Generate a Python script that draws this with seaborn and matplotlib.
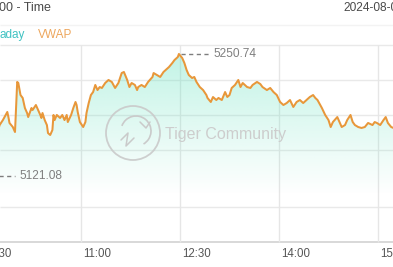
import numpy as np
import pandas as pd
import matplotlib
matplotlib.use("Agg")
import matplotlib.pyplot as plt
import seaborn as sns
from matplotlib.patches import Circle, Arc
from matplotlib.transforms import blended_transform_factory, offset_copy

# ---- data (minutes after 9:30 open, index price) ----
minutes = [0, 3, 7, 12, 16, 19, 23, 24, 25, 28, 30, 32, 33, 35, 37, 39, 41, 42, 45, 46,
           49, 51, 53, 54, 55, 57, 59, 60, 62, 64, 65, 66, 68, 71, 73, 75, 77, 78, 81, 83,
           85, 86, 87, 89, 92, 94, 95, 97, 99, 101, 103, 105, 107, 109, 112, 115, 118, 121,
           124, 127, 129, 132, 134, 136, 139, 141, 142, 145, 148, 151, 155, 156, 159, 162,
           165, 169, 170, 173, 175, 178, 179, 182, 184, 186, 188, 191, 193, 195, 198, 201,
           204, 205, 208, 210, 213, 215, 218, 221, 223, 225, 227, 230, 233, 235, 237, 241,
           244, 246, 250, 253, 255, 259, 262, 265, 268, 271, 274, 277, 280, 283, 286, 289,
           292, 295, 298, 301, 303, 305, 309, 312, 315, 317, 319, 323, 325, 327, 330, 332,
           335, 337, 339, 342, 345, 348, 351, 355, 357, 359, 362, 365, 367, 369, 372, 374,
           376, 380, 384, 390]
prices = [5148.7, 5121.08, 5138.0, 5159.3, 5175.2, 5180.5, 5189.1, 5183.7, 5177.4, 5173.1,
          5167.8, 5221.0, 5219.9, 5207.1, 5204.0, 5193.3, 5188.0, 5183.7, 5193.3, 5191.2,
          5196.5, 5191.2, 5185.9, 5182.7, 5188.0, 5180.5, 5175.2, 5166.7, 5164.6, 5169.9,
          5185.9, 5180.5, 5185.9, 5182.7, 5185.9, 5180.5, 5185.9, 5178.4, 5185.9, 5193.3,
          5199.7, 5196.5, 5189.1, 5178.4, 5173.1, 5178.4, 5188.0, 5198.6, 5207.1, 5210.3,
          5217.8, 5212.4, 5215.6, 5214.6, 5219.9, 5223.1, 5221.0, 5214.6, 5219.9, 5230.5,
          5231.6, 5223.1, 5215.6, 5219.9, 5217.8, 5212.4, 5215.6, 5217.8, 5215.6, 5221.0,
          5226.3, 5230.5, 5228.4, 5226.3, 5231.6, 5235.8, 5236.9, 5241.1, 5244.3, 5247.5,
          5250.74, 5246.5, 5241.1, 5233.7, 5228.4, 5225.2, 5226.3, 5221.0, 5215.6, 5212.4,
          5207.1, 5204.0, 5199.7, 5205.0, 5201.8, 5204.0, 5201.8, 5210.3, 5205.0, 5207.1,
          5214.6, 5217.8, 5223.1, 5215.6, 5219.9, 5215.6, 5214.6, 5217.8, 5221.0, 5218.8,
          5215.6, 5212.4, 5214.6, 5210.3, 5207.1, 5199.7, 5196.5, 5198.6, 5201.8, 5194.4,
          5199.7, 5201.8, 5198.6, 5201.8, 5205.0, 5207.1, 5204.0, 5201.8, 5193.3, 5185.9,
          5180.5, 5173.1, 5178.4, 5183.7, 5178.4, 5173.1, 5175.2, 5180.5, 5185.9, 5178.4,
          5175.2, 5173.1, 5172.1, 5173.1, 5177.4, 5175.2, 5178.4, 5177.4, 5175.2, 5180.5,
          5183.7, 5177.4, 5173.1, 5172.1, 5174.2, 5175.2, 5173.1, 5174.2]
tick_minutes = [0, 90, 180, 270, 360]
tick_labels = ["9:30", "11:00", "12:30", "14:00", "15:30"]
legend_labels = ["aday", "VWAP"]
header_left = "00 - Time"
header_right = "2024-08-06"
watermark = "Tiger Community"

df = pd.DataFrame({"minute": minutes, "price": prices})

# ---- style ----
sns.set_theme(style="white")
plt.rcParams["font.family"] = ["Liberation Sans", "DejaVu Sans"]

W, H = 393, 267
fig = plt.figure(figsize=(W / 100, H / 100), dpi=100)
fig.patch.set_facecolor("white")

# pixel-space overlay layers
under = fig.add_axes([0, 0, 1, 1], zorder=0)
under.set_xlim(0, W); under.set_ylim(H, 0); under.axis("off")
ax = fig.add_axes([0, 0, 1, 1], zorder=1)
ax.patch.set_alpha(0)
top = fig.add_axes([0, 0, 1, 1], zorder=2)
top.set_xlim(0, W); top.set_ylim(H, 0); top.axis("off")
top.patch.set_alpha(0)

# layout: 9:30 sits at px -18, 1.1 px per minute; price scale ~1.0628 per px
open_px, px_per_min = -18.0, 1.1
p_top, p_per_px = 5308.1, 1.0628
x_lo = (0 - open_px) / px_per_min
x_hi = (W - open_px) / px_per_min
y_hi = p_top
y_lo = p_top - p_per_px * H

# grid
under.hlines([45, 80, 115, 150, 207], 0, W, color="#e9e9e9", lw=1.0)
under.hlines([25], 0, W, color="#f3f3f3", lw=1.0)
under.hlines([242], 0, W, color="#d6d6d6", lw=1.3)
bt = blended_transform_factory(ax.transData, under.transData)
ax.vlines(tick_minutes, 45, 242, transform=bt, color="#e6e6e6", lw=1.0, zorder=0.5)

# gradient fill under line
base = p_top - p_per_px * 200
fill = ax.fill_between(df["minute"], df["price"], base, color="none", lw=0)
mint = np.array([110, 228, 195]) / 255
grad = np.linspace(1, 0, 256)
rgba = np.zeros((256, 1, 4))
rgba[..., :3] = mint
rgba[:, 0, 3] = 0.42 * grad
g_top = max(prices)
g_bot = p_top - p_per_px * 195
im = ax.imshow(rgba, extent=[x_lo - 30, x_hi + 30, g_bot, g_top], aspect="auto",
               origin="upper", zorder=1, interpolation="bilinear")
im.set_clip_path(fill.get_paths()[0], transform=ax.transData)

# price line
sns.lineplot(data=df, x="minute", y="price", ax=ax, color="#e8973a", lw=1.45,
             zorder=3, legend=False)

ax.set_xlim(x_lo, x_hi)
ax.set_ylim(y_lo, y_hi)
ax.axis("off")

# high / low markers
i_max = int(np.argmax(prices)); i_min = int(np.argmin(prices))
for i in (i_max, i_min):
    t, p = minutes[i], prices[i]
    ax.plot([t + 2, t + 27], [p, p], color="#7d7d7d", lw=1.0, ls=(0, (3, 2.5)), zorder=4)
    ax.text(t + 31, p, f"{p:.2f}", color="#7f7f7f", fontsize=8.6, va="center",
            ha="left", zorder=4)

# x tick labels (left aligned just right of the gridline; first one nudged inward)
for k, (m, lab) in enumerate(zip(tick_minutes, tick_labels)):
    lt = offset_copy(bt, fig=fig, x=(8 if k == 0 else 2), y=0, units="dots")
    ax.text(m, 254, lab, transform=lt, ha="left", va="center", fontsize=8.3,
            color="#555555", clip_on=False)

# header + legend
top.text(-1, 8, header_left, ha="left", va="center", fontsize=9, color="#4a4a4a")
top.text(343, 8, header_right, ha="left", va="center", fontsize=8.6, color="#4a4a4a")
top.text(-1, 35, legend_labels[0], ha="left", va="center", fontsize=8.5, color="#40c2c2")
top.text(38, 35, legend_labels[1], ha="left", va="center", fontsize=8.5, color="#eda65c")

# watermark
wm = "#cacaca"
top.add_patch(Circle((133, 133), 27, fill=False, ec=wm, lw=1.3, alpha=0.9))
top.add_patch(Arc((136, 131), 30, 30, theta1=200, theta2=60, ec=wm, lw=1.2))
top.plot([121, 128, 126, 134], [140, 133, 146, 138], color=wm, lw=1.1)
top.plot([140, 146, 150], [122, 128, 122], color=wm, lw=1.1)
top.text(165, 134, watermark, ha="left", va="center", fontsize=11.5, color="#cdcdcd")

fig.savefig("out.png", dpi=100, facecolor="white")
